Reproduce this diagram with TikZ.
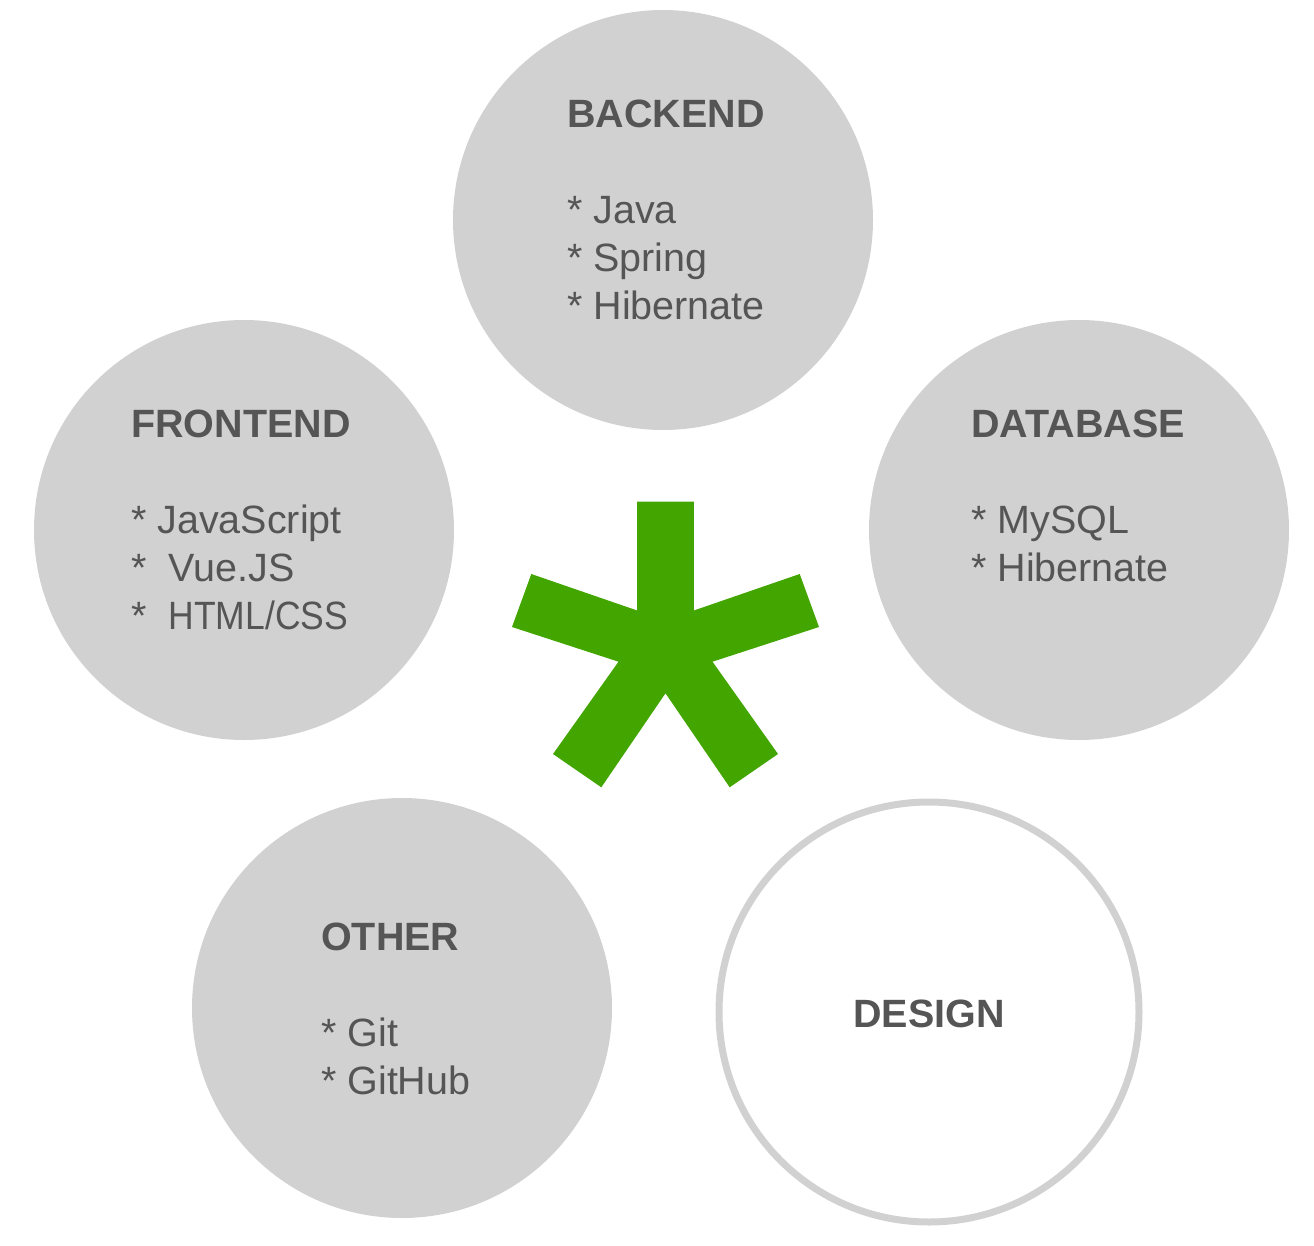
\documentclass[tikz,border=0pt]{standalone}
\usepackage{graphicx}
\usepackage{fontspec}
\setmainfont{Liberation Sans}
\definecolor{bubblegray}{RGB}{209,209,209}
\definecolor{txtgray}{RGB}{85,85,85}
\definecolor{stargreen}{RGB}{66,165,0}
\begin{document}
\begin{tikzpicture}[x=0.75pt,y=0.75pt,yscale=-1,xscale=1,
  bubble/.style={circle,fill=bubblegray,minimum size=315pt,inner sep=0pt},
  openbubble/.style={circle,draw=bubblegray,line width=5.25pt,fill=white,minimum size=315pt,inner sep=0pt},
  skilltxt/.style={anchor=north west,inner sep=0pt,align=left,text=txtgray,font=\fontsize{29.6}{35.85}\selectfont}]

\useasboundingbox (0,0) rectangle (1314,1246);

\node [bubble] (backend) at (663,220) {};
\node [bubble] (frontend) at (244,530) {};
\node [bubble] (database) at (1079,530) {};
\node [bubble] (other) at (402,1008) {};
\node [openbubble] (design) at (929,1012) {};

\fill [stargreen] (637.2,501.7) -- (693.8,501.7) -- (693.8,610.5) -- (799.7,574) -- (819,627) -- (712.5,661.7) -- (778,754) -- (729.7,787.3) -- (665.5,693.3) -- (601.3,787.3) -- (553,754) -- (618.5,661.7) -- (512,627) -- (531.3,574) -- (637.2,610.5) -- cycle;

\draw (567,100) node [skilltxt] (backendtxt) {\textbf{BACKEND}\\ \\{*} Java\\{*} Spring\\{*} Hibernate};
\draw (131,410) node [skilltxt] (frontendtxt) {\textbf{FRONTEND}\\ \\{*} JavaScript\\{*} ~Vue.JS\\{*} ~\scalebox{0.9}[1]{HTML/CSS}};
\draw (971,410) node [skilltxt] (databasetxt) {\textbf{DATABASE}\\ \\{*} MySQL\\{*} Hibernate};
\draw (321,923) node [skilltxt] (othertxt) {\textbf{OTHER}\\ \\{*} Git\\{*} GitHub};
\draw (929,1014) node [skilltxt,anchor=center] (designtxt) {\textbf{DESIGN}};

\end{tikzpicture}
\end{document}
